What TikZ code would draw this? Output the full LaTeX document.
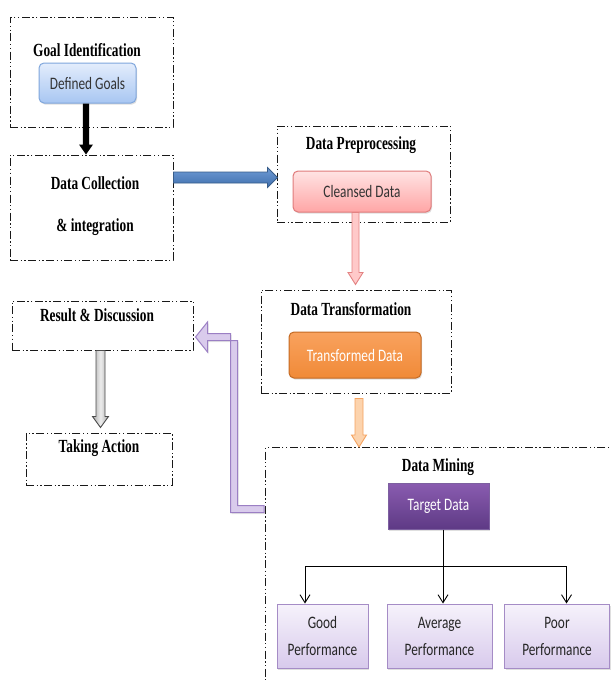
\documentclass[tikz,border=0pt]{standalone}
\usepackage{fontspec}
\setmainfont{Liberation Serif}
\newfontfamily\ttlfont[FakeStretch=0.72]{Liberation Serif}
\newfontfamily\innerfont[FakeStretch=0.76]{Carlito}
\usetikzlibrary{calc,arrows.meta,shadows}
\definecolor{dgB}{HTML}{7FA6DC}
\definecolor{dgT}{HTML}{E3EDFC}
\definecolor{dgBo}{HTML}{A8C6F2}
\definecolor{clB}{HTML}{E07C7C}
\definecolor{clT}{HTML}{FFE3E3}
\definecolor{clBo}{HTML}{FFA6A6}
\definecolor{trB}{HTML}{C46A23}
\definecolor{trT}{HTML}{F9A25E}
\definecolor{trBo}{HTML}{F08A38}
\definecolor{tgB}{HTML}{7D60A0}
\definecolor{tgT}{HTML}{8A5CB0}
\definecolor{tgBo}{HTML}{5E3A85}
\definecolor{pfB}{HTML}{A58CC6}
\definecolor{pfT}{HTML}{F6F2FB}
\definecolor{pfBo}{HTML}{D8CAEC}
\definecolor{blA}{HTML}{6F9BD4}
\definecolor{blAb}{HTML}{3F6FAE}
\definecolor{blAd}{HTML}{385D8A}
\definecolor{pkA}{HTML}{FFC9C9}
\definecolor{pkAd}{HTML}{E38383}
\definecolor{orA}{HTML}{FCD3AD}
\definecolor{orAd}{HTML}{F5A25F}
\definecolor{puA}{HTML}{D9CBEC}
\definecolor{puAd}{HTML}{9B7FC4}
\newcommand\vblk[6]{%
  \path[#1] let \p1=(#2), \p2=(#3) in
   (\x1-#4,\y1) -- (\x1+#4,\y1) -- (\x1+#4,\y2+#6) -- (\x1+#5,\y2+#6) -- (\x1,\y2)
   -- (\x1-#5,\y2+#6) -- (\x1-#4,\y2+#6) -- cycle;}
\newcommand\hblk[6]{%
  \path[#1] let \p1=(#2), \p2=(#3) in
   (\x1,\y1+#4) -- (\x2-#6,\y1+#4) -- (\x2-#6,\y1+#5) -- (\x2,\y1) -- (\x2-#6,\y1-#5)
   -- (\x2-#6,\y1-#4) -- (\x1,\y1-#4) -- cycle;}
\begin{document}
\begin{tikzpicture}[x=1pt,y=-1pt,
  frame/.style={draw=black!90, line width=1pt,
    dash pattern=on 8pt off 2.5pt on 1.3pt off 2.5pt on 1.3pt off 2.5pt, inner sep=0},
  ttl/.style={font={\ttlfont\bfseries\fontsize{18.5}{21}\selectfont}, inner sep=0},
  ibox/.style={inner sep=0, font={\innerfont\fontsize{17.5}{20}\selectfont},
    drop shadow={opacity=0.25, shadow xshift=1pt, shadow yshift=-1.5pt}},
  rbox/.style={ibox, rounded corners=5pt, line width=1pt},
  pbox/.style={ibox, line width=1pt, draw=pfB, top color=pfT, bottom color=pfBo,
    align=center, font={\innerfont\fontsize{17.5}{27}\selectfont},
    minimum height=64, text=black!85},
  tree/.style={line width=0.9pt, draw=black},
  treearr/.style={tree, -{Straight Barb[length=8pt,width=10pt]}}
]
\useasboundingbox (0,0) rectangle (611,680);
\clip (0,0) rectangle (611,680);
\fill[white] (0,0) rectangle (611,680);

% frames
\node[frame, minimum width=163, minimum height=110] (goalF) at (91.5,72) {};
\node[frame, minimum width=163, minimum height=105] (dcF) at (91.5,207.5) {};
\node[frame, minimum width=173, minimum height=96] (dpF) at (363.5,174) {};
\node[frame, minimum width=190, minimum height=103] (dtF) at (356,341.5) {};
\node[frame, minimum width=400, minimum height=300, anchor=north west] (dmF) at (265,447) {};
\node[frame, minimum width=181, minimum height=49] (result) at (102.5,325.5) {};
\node[frame, minimum width=146, minimum height=52] (taking) at (99,459) {};

% titles
\node[ttl] (goalT) at (87,50) {Goal Identification};
\node[ttl] (dcT1) at (95,183) {Data Collection};
\node[ttl] (dcT2) at (95,227) {\& integration};
\node[ttl] (dpT) at (361,145) {Data Preprocessing};
\node[ttl] (dtT) at (351,309) {Data Transformation};
\node[ttl] (dmT) at (438,467) {Data Mining};
\node[ttl] (resT) at (97,315) {Result \& Discussion};
\node[ttl] (takT) at (99,448) {Taking Action};

% inner boxes
\node[rbox, draw=dgB, top color=dgT, bottom color=dgBo, minimum width=97, minimum height=40,
  text=black!80] (defined) at (87.5,83) {Defined Goals};
\node[rbox, draw=clB, top color=clT, bottom color=clBo, minimum width=138, minimum height=41,
  text=black!80] (cleansed) at (362,191.5) {Cleansed Data};
\node[rbox, draw=trB, top color=trT, bottom color=trBo, minimum width=132, minimum height=46,
  text=white] (transformed) at (355,355) {Transformed Data};
\node[ibox, line width=1pt, draw=tgB, top color=tgT, bottom color=tgBo, minimum width=101,
  minimum height=46, text=white] (target) at (438.5,506) {Target Data};
\node[pbox, minimum width=91] (good) at (322.5,636) {Good\\Performance};
\node[pbox, minimum width=105] (avg) at (439.5,636) {Average\\Performance};
\node[pbox, minimum width=105] (poor) at (557,636) {Poor\\Performance};

% tree connectors
\coordinate (junc) at ($(target.south)+(4.5,37)$);
\draw[tree] ($(target.south)+(4.5,0)$) -- (junc);
\draw[tree] ($(good.north)+(-17.5,-37)$) -- ($(poor.north)+(9.5,-37)$);
\draw[treearr] ($(good.north)+(-17.5,-37)$) -- ($(good.north)+(-17.5,0)$);
\draw[treearr] (junc) -- ($(avg.north)+(3.5,0)$);
\draw[treearr] ($(poor.north)+(9.5,-37)$) -- ($(poor.north)+(9.5,0)$);

% block arrows
\vblk{fill=black}{$(defined.south)+(-1.5,0)$}{dcF.north}{3.2pt}{7pt}{10pt}
\hblk{draw=blAd, line width=0.8pt, top color=blA, bottom color=blAb}
  {$(dcF.east)+(0,-30)$}{$(dpF.west)+(1,0)$}{5.5pt}{10pt}{10pt}
\vblk{draw=pkAd, line width=0.9pt, fill=pkA}{$(cleansed.south)+(-6.5,0)$}{$(dtF.north)+(0,-5)$}{3.5pt}{7.5pt}{12pt}
\vblk{draw=orAd, line width=0.9pt, fill=orA}{$(dtF.south)+(3,5)$}{dmF.north}{4pt}{7.5pt}{12pt}
\vblk{draw=black!70, line width=0.9pt, left color=gray!65, right color=gray!65, middle color=gray!15}
  {$(result.south)+(-2,0)$}{$(taking.north)+(0,-5)$}{4.5pt}{8pt}{11pt}

% purple elbow arrow
\coordinate (pstart) at ($(dmF.north west)+(-1,62)$);
\coordinate (ptip) at ($(result.east)+(2,11.5)$);
\path[draw=puAd, line width=1pt, fill=puA,
  drop shadow={opacity=0.2, shadow xshift=1pt, shadow yshift=-1.5pt}]
  let \p1=(ptip), \p2=(pstart) in
  (\x2,\y2+3.5pt) -- (\x2-26.5pt,\y2+3.5pt) -- (\x2-26.5pt,\y1-3.5pt)
  -- (\x1+12pt,\y1-3.5pt) -- (\x1+12pt,\y1-15pt) -- (\x1,\y1) -- (\x1+12pt,\y1+15pt)
  -- (\x1+12pt,\y1+3.5pt) -- (\x2-33.5pt,\y1+3.5pt) -- (\x2-33.5pt,\y2-3.5pt)
  -- (\x2,\y2-3.5pt) -- cycle;
\end{tikzpicture}
\end{document}
